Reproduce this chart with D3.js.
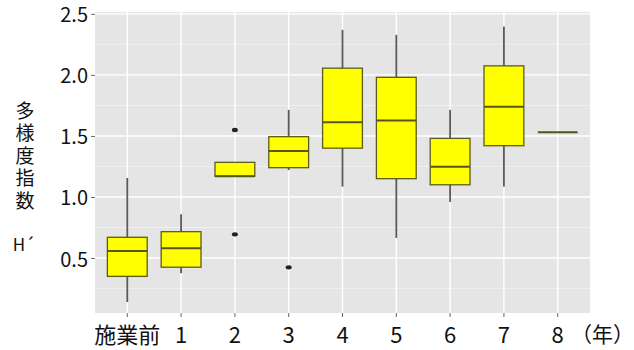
<!DOCTYPE html>
<html>
<head>
<meta charset="utf-8">
<script src="https://cdn.jsdelivr.net/npm/d3@7"></script>
<style>
  body { margin: 0; background: #fff; }
  text { font-family: "Noto Sans CJK JP", "DejaVu Sans", sans-serif; }
</style>
</head>
<body>
<div id="chart"></div>
<script>
// カテゴリ（施業後の年数）
const categories = ['施業前', '1', '2', '3', '4', '5', '6', '7', '8'];
// 箱ひげ図の値
const whiskerLow = [0.14, 0.375, 1.17, 1.22, 1.085, 0.665, 0.96, 1.085, 1.53];
const q1 = [0.35, 0.425, 1.17, 1.24, 1.40, 1.15, 1.10, 1.42, 1.53];
const median = [0.557, 0.58, 1.17, 1.377, 1.612, 1.626, 1.248, 1.74, 1.53];
const q3 = [0.67, 0.716, 1.284, 1.494, 2.055, 1.98, 1.48, 2.074, 1.53];
const whiskerHigh = [1.156, 0.858, 1.284, 1.713, 2.369, 2.328, 1.713, 2.396, 1.53];
// 外れ値 [カテゴリ, 値]
const outliers = [['2', 1.549], ['2', 0.694], ['3', 0.424]];
// 軸目盛
const yTicks = [0.5, 1.0, 1.5, 2.0, 2.5];
const yMinorTicks = [0.25, 0.75, 1.25, 1.75, 2.25];

const width = 634, height = 350;
const margin = { top: 12, left: 95, bottom: 37, right: 44 };

const data = categories.map((c, i) => ({
    cat: c, lo: whiskerLow[i], q1: q1[i], med: median[i], q3: q3[i], hi: whiskerHigh[i]
}));

// 比例尺
const x = d3.scaleBand()
    .domain(categories)
    .range([margin.left, width - margin.right])
    .paddingInner(0)
    .paddingOuter(0.1);
const y = d3.scaleLinear()
    .domain([0.05, 2.515])
    .range([height - margin.bottom, margin.top]);
const cx = d => x(d) + x.bandwidth() / 2;
const boxW = x.bandwidth() * 0.74;

const svg = d3.select('#chart')
    .append('svg')
    .attr('width', width)
    .attr('height', height);

// パネル背景
svg.append('rect')
    .attr('x', margin.left)
    .attr('y', margin.top)
    .attr('width', width - margin.left - margin.right)
    .attr('height', height - margin.top - margin.bottom)
    .attr('fill', '#e5e5e5');

// グリッド線
svg.append('g')
    .selectAll('line.minor')
    .data(yMinorTicks)
    .join('line')
    .attr('x1', margin.left)
    .attr('x2', width - margin.right)
    .attr('y1', d => y(d))
    .attr('y2', d => y(d))
    .attr('stroke', '#f2f2f2')
    .attr('stroke-width', 0.8);
svg.append('g')
    .selectAll('line.major')
    .data(yTicks)
    .join('line')
    .attr('x1', margin.left)
    .attr('x2', width - margin.right)
    .attr('y1', d => y(d))
    .attr('y2', d => y(d))
    .attr('stroke', '#fff')
    .attr('stroke-width', 1.4);
svg.append('g')
    .selectAll('line.xgrid')
    .data(categories)
    .join('line')
    .attr('x1', d => cx(d))
    .attr('x2', d => cx(d))
    .attr('y1', margin.top)
    .attr('y2', height - margin.bottom)
    .attr('stroke', '#fff')
    .attr('stroke-width', 1.4);

// 坐标轴
const yAxis = g => g
    .attr('transform', `translate(${margin.left},0)`)
    .call(d3.axisLeft(y).tickValues(yTicks).tickFormat(d3.format('.1f')).tickSize(4).tickPadding(3))
    .call(g => g.select('.domain').remove())
    .call(g => g.selectAll('.tick line').attr('stroke', '#666'))
    .call(g => g.selectAll('.tick text').attr('dy', '0.4em')
        .attr('fill', '#111').attr('font-size', 20)
        .attr('font-family', '"Liberation Sans", Arial, sans-serif'));
const xAxis = g => g
    .attr('transform', `translate(0,${height - margin.bottom})`)
    .call(d3.axisBottom(x).tickSize(4))
    .call(g => g.select('.domain').remove())
    .call(g => g.selectAll('.tick line').attr('stroke', '#666'))
    .call(g => g.selectAll('.tick text')
        .attr('y', 30).attr('dy', 0)
        .attr('fill', '#111').attr('font-size', 22)
        .attr('font-family', d => d === '施業前' ? '"Noto Sans CJK JP", sans-serif' : '"Liberation Sans", Arial, sans-serif'));
svg.append('g').call(yAxis);
svg.append('g').call(xAxis);

// ひげ
const boxes = svg.append('g');
boxes.selectAll('line.whisker')
    .data(data)
    .join('line')
    .attr('x1', d => cx(d.cat))
    .attr('x2', d => cx(d.cat))
    .attr('y1', d => y(d.lo))
    .attr('y2', d => y(d.hi))
    .attr('stroke', '#5a5a5a')
    .attr('stroke-width', 1.8);

// 箱
boxes.selectAll('rect.box')
    .data(data)
    .join('rect')
    .attr('x', d => cx(d.cat) - boxW / 2)
    .attr('y', d => y(d.q3))
    .attr('width', boxW)
    .attr('height', d => y(d.q1) - y(d.q3))
    .attr('fill', '#ffff00')
    .attr('stroke', '#5c5c1a')
    .attr('stroke-width', 1.3);

// 中央値
boxes.selectAll('line.median')
    .data(data)
    .join('line')
    .attr('x1', d => cx(d.cat) - boxW / 2)
    .attr('x2', d => cx(d.cat) + boxW / 2)
    .attr('y1', d => y(d.med))
    .attr('y2', d => y(d.med))
    .attr('stroke', '#55551a')
    .attr('stroke-width', 2);

// 外れ値
boxes.selectAll('ellipse.outlier')
    .data(outliers)
    .join('ellipse')
    .attr('cx', d => cx(d[0]))
    .attr('cy', d => y(d[1]))
    .attr('rx', 3)
    .attr('ry', 2.2)
    .attr('fill', '#222');

// y軸タイトル（縦書き）
svg.append('text')
    .attr('x', 25)
    .attr('y', 101)
    .attr('font-size', 19)
    .attr('fill', '#111')
    .style('writing-mode', 'vertical-rl')
    .style('letter-spacing', '3.5px')
    .text('多様度指数');
svg.append('text')
    .attr('x', 24)
    .attr('y', 251)
    .attr('text-anchor', 'middle')
    .attr('font-size', 17)
    .attr('font-family', '"Noto Sans CJK JP", sans-serif')
    .attr('fill', '#111')
    .text('H´');

// x軸単位
svg.append('text')
    .attr('x', 634)
    .attr('y', 342)
    .attr('text-anchor', 'end')
    .attr('font-size', 21)
    .attr('fill', '#111')
    .text('（年）');
</script>
</body>
</html>
